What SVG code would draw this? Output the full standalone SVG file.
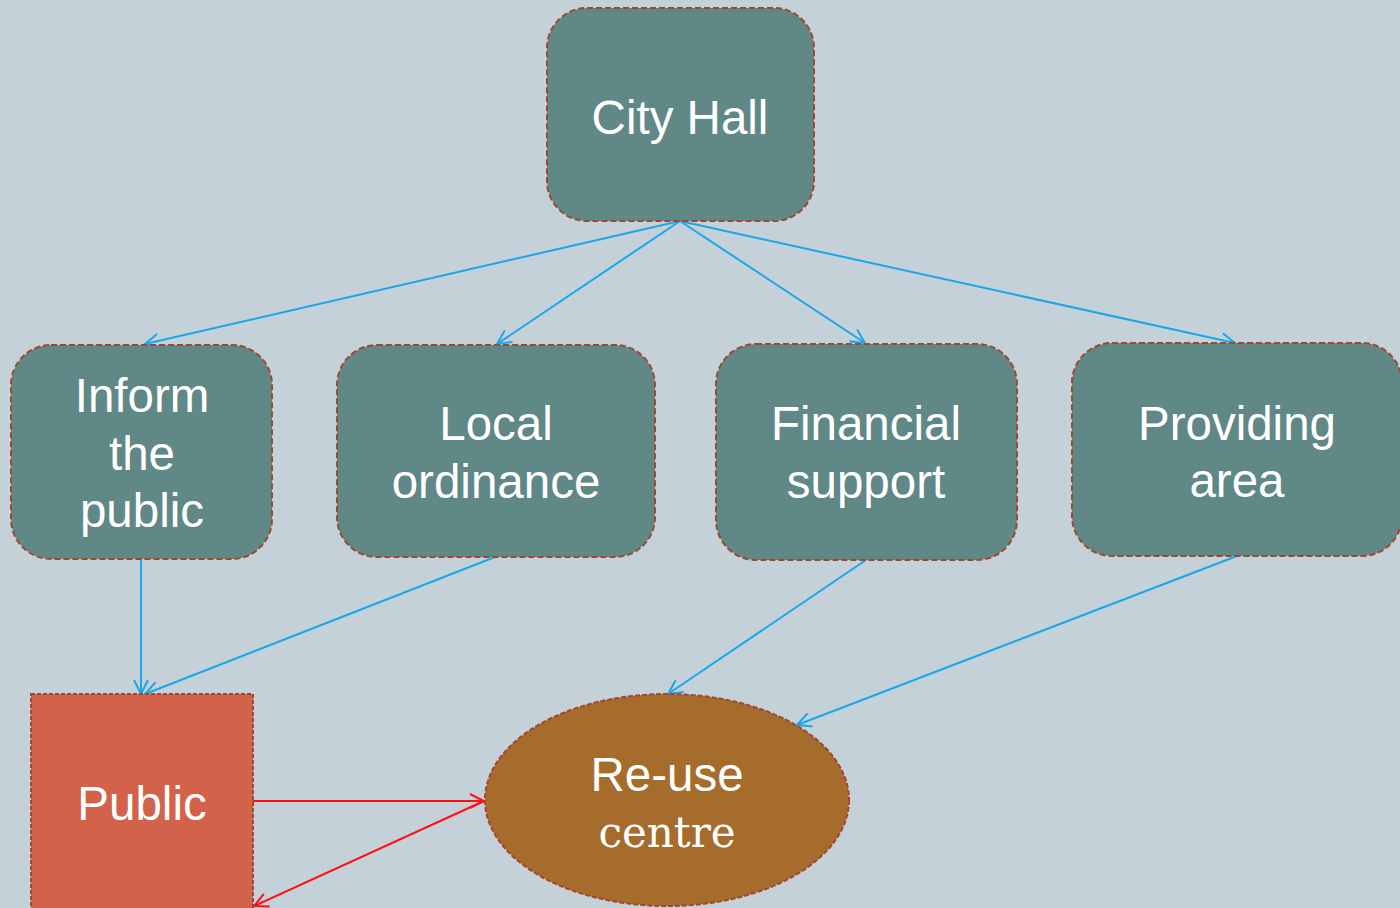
<svg xmlns="http://www.w3.org/2000/svg" width="1400" height="908" viewBox="0 0 1400 908">
<style>
.node{fill:#5F8887;stroke:#A0472F;stroke-width:2;stroke-dasharray:6,3}
.t{font-family:"Liberation Sans",Arial,sans-serif;font-size:47.5px;fill:#FFFFFF;text-anchor:middle}
.ts{font-family:"DejaVu Serif","Liberation Serif",serif;font-size:42px;fill:#FFFFFF;text-anchor:middle}
.b{stroke:#1AA7E8;stroke-width:2;fill:none;marker-end:url(#ab)}
.r{stroke:#FF1010;stroke-width:2;fill:none;marker-end:url(#ar)}
</style>
<defs>
<marker id="ab" viewBox="0 0 16 16" refX="15" refY="8" markerWidth="16" markerHeight="16" markerUnits="userSpaceOnUse" orient="auto"><path d="M1,1 L15,8 L1,15" fill="none" stroke="#1AA7E8" stroke-width="2"/></marker>
<marker id="ar" viewBox="0 0 16 16" refX="15" refY="8" markerWidth="16" markerHeight="16" markerUnits="userSpaceOnUse" orient="auto"><path d="M1,1 L15,8 L1,15" fill="none" stroke="#FF1010" stroke-width="2"/></marker>
</defs>
<rect x="0" y="0" width="1400" height="908" fill="#C5D1D8"/>
<g id="connectors">
<line class="b" x1="680" y1="221" x2="145" y2="344"/>
<line class="b" x1="680" y1="221" x2="497" y2="344"/>
<line class="b" x1="680" y1="221" x2="865" y2="343"/>
<line class="b" x1="680" y1="221" x2="1235" y2="343"/>
<line class="b" x1="141" y1="559" x2="141" y2="694"/>
<line class="b" x1="495" y1="557" x2="145" y2="694"/>
<line class="b" x1="866" y1="560" x2="668" y2="694"/>
<line class="b" x1="1237" y1="556" x2="797" y2="725"/>
<line class="r" x1="253" y1="801" x2="484" y2="801"/>
<line class="r" x1="484" y1="801" x2="254" y2="906"/>
</g>
<g id="city-hall">
<rect class="node" x="547" y="8" width="267" height="213" rx="40"/>
<text class="t" x="680" y="134">City Hall</text>
</g>
<g id="inform-public">
<rect class="node" x="11" y="345" width="261" height="214" rx="40"/>
<text class="t" x="142" y="412">Inform</text>
<text class="t" x="142" y="470">the</text>
<text class="t" x="142" y="527">public</text>
</g>
<g id="local-ordinance">
<rect class="node" x="337" y="345" width="318" height="212" rx="40"/>
<text class="t" x="496" y="440">Local</text>
<text class="t" x="496" y="498">ordinance</text>
</g>
<g id="financial-support">
<rect class="node" x="716" y="344" width="301" height="216" rx="40"/>
<text class="t" x="866" y="440">Financial</text>
<text class="t" x="866" y="498">support</text>
</g>
<g id="providing-area">
<rect class="node" x="1072" y="343" width="330" height="213" rx="40"/>
<text class="t" x="1237" y="440">Providing</text>
<text class="t" x="1237" y="497">area</text>
</g>
<g id="public">
<rect x="31" y="694" width="222" height="220" fill="#D2634A" stroke="#A0472F" stroke-width="2" stroke-dasharray="4,2"/>
<text class="t" x="142" y="820">Public</text>
</g>
<g id="reuse-centre">
<ellipse cx="667" cy="800" rx="182" ry="106" fill="#A66C2B" stroke="#A0472F" stroke-width="2" stroke-dasharray="5,2"/>
<text class="t" x="667" y="791">Re-use</text>
<text class="ts" x="667" y="847">centre</text>
</g>
</svg>
